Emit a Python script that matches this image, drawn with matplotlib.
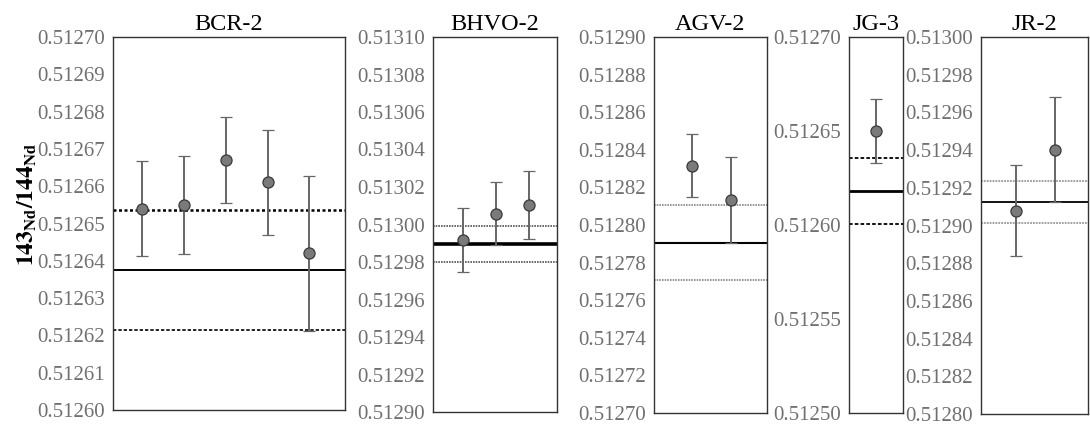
import matplotlib
matplotlib.use("Agg")
import matplotlib.pyplot as plt

plt.rcParams["font.family"] = ["Liberation Serif", "DejaVu Serif"]
plt.rcParams["mathtext.fontset"] = "stix"

# Reference materials and their measured 143Nd/144Nd ratios (±2SE)
samples = ["BCR-2", "BHVO-2", "AGV-2", "JG-3", "JR-2"]

bcr2_vals = [0.512654, 0.512655, 0.512667, 0.512661, 0.512642]
bcr2_err = [0.0000128, 0.0000132, 0.0000115, 0.0000142, 0.0000207]
bhvo2_vals = [0.5129917, 0.5130058, 0.5130104]
bhvo2_err = [0.0000170, 0.0000168, 0.0000183]
agv2_vals = [0.5128316, 0.5128135]
agv2_err = [0.0000168, 0.0000229]
jg3_vals = [0.5126500]
jg3_err = [0.0000170]
jr2_vals = [0.5129078, 0.5129403]
jr2_err = [0.0000241, 0.0000278]

# Recommended values (mean ± 2SD)
ref_mean = [0.5126375, 0.5129898, 0.5127906, 0.5126183, 0.5129124]
ref_2sd = [0.0000161, 0.0000096, 0.0000198, 0.0000176, 0.0000111]

y_ranges = [(0.51260, 0.51270), (0.51290, 0.51310), (0.51270, 0.51290),
            (0.51250, 0.51270), (0.51280, 0.51300)]
y_steps = [0.00001, 0.00002, 0.00002, 0.00005, 0.00002]

values = [bcr2_vals, bhvo2_vals, agv2_vals, jg3_vals, jr2_vals]
errors = [bcr2_err, bhvo2_err, agv2_err, jg3_err, jr2_err]

W, H = 1090, 425
boxes = [(113, 345, 37, 410), (433, 557, 37, 412), (654, 767, 37, 413),
         (849, 903, 37, 413), (981, 1088, 37, 414)]
xlims = [(0.3, 5.85), (0.1, 3.85), (0.05, 2.9), (0.05, 1.95), (0.1, 2.85)]
mean_lw = [1.4, 2.6, 1.5, 2.0, 1.3]
band_style = [
    [dict(color="black", lw=1.8, ls=(0, (1.2, 1.0))), dict(color="black", lw=1.2, ls=(0, (2, 1.2)))],
    [dict(color="#555555", lw=1.2, ls=(0, (1, 0.6))), dict(color="#555555", lw=1.2, ls=(0, (1, 0.6)))],
    [dict(color="#888888", lw=1.2, ls=(0, (1, 0.6))), dict(color="#888888", lw=1.2, ls=(0, (1, 0.6)))],
    [dict(color="black", lw=1.3, ls=(0, (2, 1.2))), dict(color="black", lw=1.3, ls=(0, (2, 1.2)))],
    [dict(color="#999999", lw=1.3, ls=(0, (1, 0.6))), dict(color="#999999", lw=1.3, ls=(0, (1, 0.6)))],
]

fig = plt.figure(figsize=(W / 100, H / 100), dpi=100)

for i, name in enumerate(samples):
    x0, x1, y0, y1 = boxes[i]
    ax = fig.add_axes([x0 / W, (H - y1) / H, (x1 - x0) / W, (y1 - y0) / H])
    xs = list(range(1, len(values[i]) + 1))
    ax.errorbar(xs, values[i], yerr=errors[i], fmt="o", color="#6e6e6e",
                ecolor="#666666", elinewidth=1.4, capsize=4, capthick=1.4,
                markersize=8, markerfacecolor="#7a7a7a", markeredgecolor="#3a3a3a",
                markeredgewidth=0.9, zorder=3)
    ax.axhline(ref_mean[i], color="black", lw=mean_lw[i], zorder=2)
    ax.axhline(ref_mean[i] + ref_2sd[i], zorder=2, **band_style[i][0])
    ax.axhline(ref_mean[i] - ref_2sd[i], zorder=2, **band_style[i][1])

    lo, hi = y_ranges[i]
    n = int(round((hi - lo) / y_steps[i]))
    ticks = [lo + k * y_steps[i] for k in range(n + 1)]
    ax.set_ylim(lo, hi)
    ax.set_yticks(ticks)
    ax.set_yticklabels([f"{t:.5f}" for t in ticks])
    ax.set_xlim(*xlims[i])
    ax.set_xticks([])
    ax.tick_params(axis="y", length=0, pad=6, labelsize=15, labelcolor="#707070")
    for sp in ax.spines.values():
        sp.set_color("#333333")
        sp.set_linewidth(1.0)
    ax.set_title(name, fontsize=17.5, color="black", pad=5)

fig.text(0.025, 0.52, r"$\mathbf{143_{Nd}/144_{Nd}}$", rotation=90,
         ha="center", va="center", fontsize=17)

fig.savefig("out.png", dpi=100)
